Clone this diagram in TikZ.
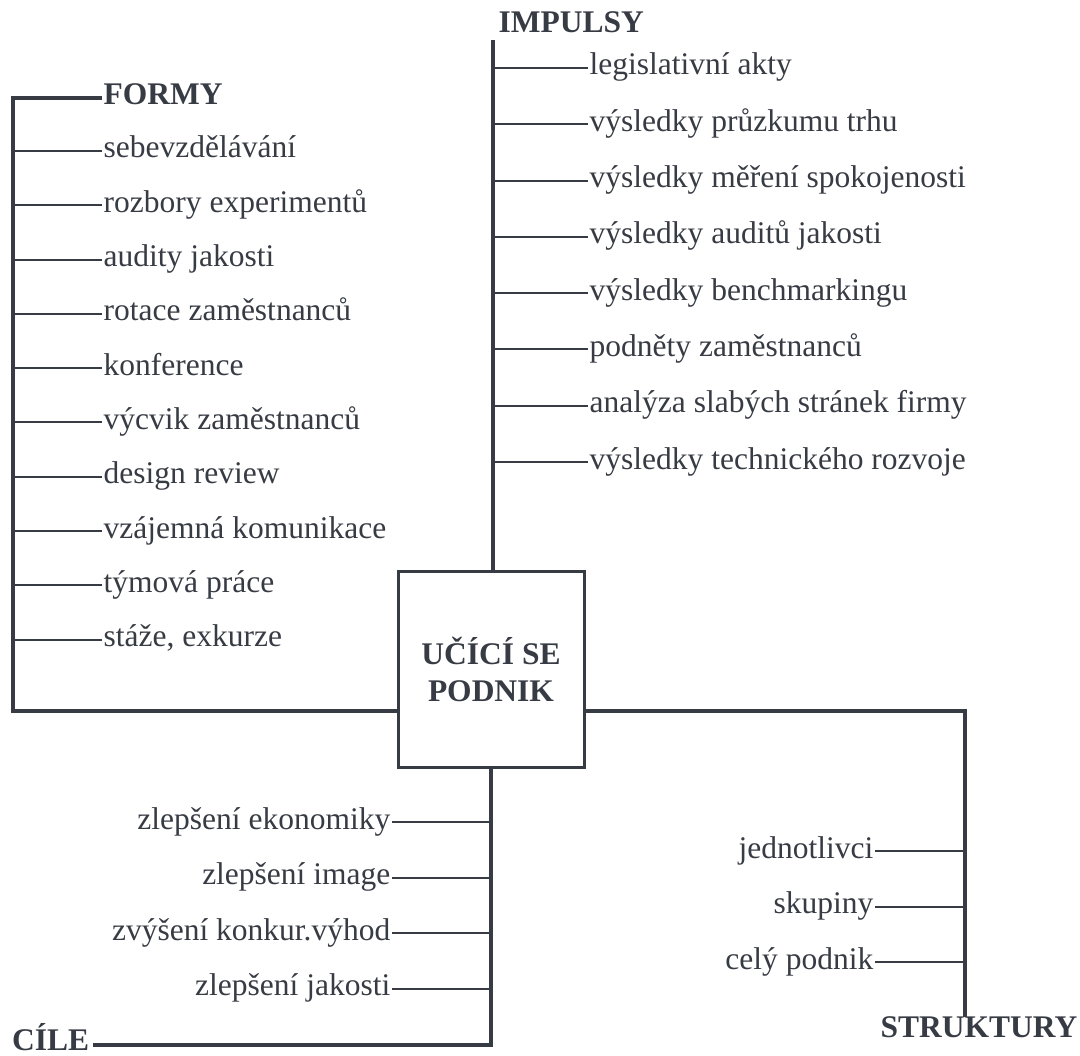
\documentclass[tikz,border=0pt]{standalone}
\usepackage{fontspec}
\setmainfont{Liberation Serif}
\newfontfamily\diagfont{Liberation Serif}
\definecolor{ink}{RGB}{55,59,67}
\begin{document}
\begin{tikzpicture}[x=1pt,y=-1pt,
  spine/.style={draw=ink, line width=4.2pt, line join=miter},
  twig/.style={draw=ink, line width=2pt},
  item/.style={font=\diagfont\fontsize{31.5}{36}\selectfont, text=ink, inner sep=1.5pt,
               text height=21pt, text depth=7pt},
  head/.style={item, font=\diagfont\fontsize{31.5}{36}\selectfont\bfseries},
  core/.style={draw=ink, line width=3pt, minimum width=186pt, minimum height=195pt,
               align=center, text=ink, font=\diagfont\fontsize{31.5}{37}\selectfont\bfseries}]
\useasboundingbox (0,0) rectangle (1080,1056);

% central box
\node[core] (core) at (491,669.5) {UČÍCÍ SE\\PODNIK};

% spine corners and ends
\coordinate (iTop) at (493,40);
\coordinate (fTop) at (13,98);
\coordinate (fBot) at (13,711);
\coordinate (sCorner) at (965,711);
\coordinate (sBot) at (965,1017);
\coordinate (cCorner) at (491,1045);

% headings
\node[head, anchor=base west] (impulsy) at (497,33) {IMPULSY};
\node[head, anchor=west] (formy) at (102,98) {FORMY};
\node[head, anchor=base west] (struktury) at (879,1037) {STRUKTURY};
\node[head, anchor=base west, inner sep=4pt] (cile) at (8,1050) {CÍLE};

% main lines
\draw[spine] (iTop) -- (iTop |- core.north);
\draw[spine] (formy.west) -- (fTop) -- (fBot) -- (fBot -| core.west);
\draw[spine] (core.east |- sCorner) -- (sCorner) -- (sBot);
\draw[spine] (core.south -| cCorner) -- (cCorner) -- (cile.east |- cCorner);

% IMPULSY branches
\foreach \t [count=\i from 0] in {legislativní akty, výsledky průzkumu trhu,
    výsledky měření spokojenosti, výsledky auditů jakosti, výsledky benchmarkingu,
    podněty zaměstnanců, analýza slabých stránek firmy, výsledky technického rozvoje}{
  \node[item, anchor=west] (imp\i) at (588,68+56.3*\i) {\t};
  \draw[twig] (imp\i.west -| iTop) -- (imp\i.west);
}

% FORMY branches
\foreach \t [count=\i from 0] in {sebevzdělávání, rozbory experimentů, audity jakosti,
    rotace zaměstnanců, konference, výcvik zaměstnanců, design review,
    vzájemná komunikace, týmová práce, {stáže, exkurze}}{
  \node[item, anchor=west] (frm\i) at (102,151+54.3*\i) {\t};
  \draw[twig] (frm\i.west -| fTop) -- (frm\i.west);
}

% CÍLE branches
\foreach \t [count=\i from 0] in {zlepšení ekonomiky, zlepšení image,
    zvýšení konkur.výhod, zlepšení jakosti}{
  \node[item, anchor=east] (cil\i) at (392,822+55.6*\i) {\t};
  \draw[twig] (cil\i.east) -- (cil\i.east -| cCorner);
}

% STRUKTURY branches
\foreach \t [count=\i from 0] in {jednotlivci, skupiny, celý podnik}{
  \node[item, anchor=east] (str\i) at (875,851+55.5*\i) {\t};
  \draw[twig] (str\i.east) -- (str\i.east -| sCorner);
}
\end{tikzpicture}
\end{document}
